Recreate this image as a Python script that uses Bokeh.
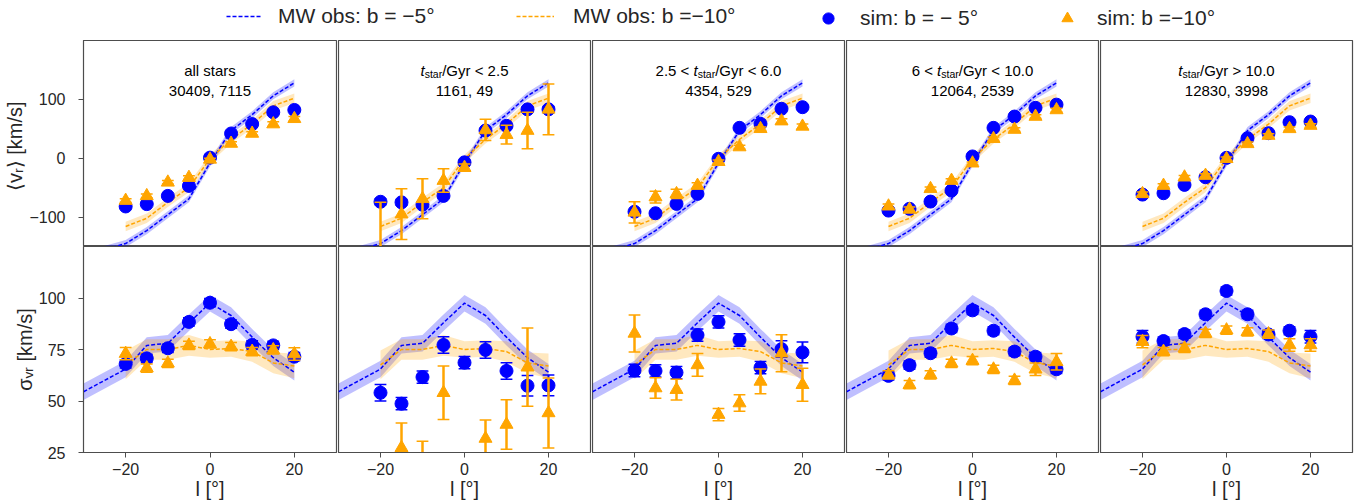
from bokeh.plotting import figure
from bokeh.models import Range1d, FixedTicker, Label, Legend, LegendItem
from bokeh.layouts import column, row
from bokeh.embed import file_html
from bokeh.resources import INLINE

nan = float("nan")

# ---------------- data ----------------
l_sim = [-20, -15, -10, -5, 0, 5, 10, 15, 20]
l_mw_b5 = [-30, -20, -15, -10, -5, 0, 5, 10, 15, 20]
l_mw_b10 = [-20, -15, -10, -5, 0, 5, 10, 15, 20]

mw_vr_b5 = [-165, -145, -123, -96, -69, -8, 47, 74, 106, 128]
mw_vr_b5_err = [6, 6, 6, 6, 6, 6, 6, 6, 6, 6]
mw_vr_b10 = [-116, -102, -75, -50, -1, 32, 58, 89, 102]
mw_vr_b10_err = [8, 8, 8, 8, 7, 7, 7, 8, 8]
mw_sig_b5 = [54.5, 65.5, 77, 78, 88, 97.5, 91.5, 81, 71, 64]
mw_sig_b5_err = [4, 4, 4, 4, 4, 4, 4, 4, 4, 4]
mw_sig_b10 = [67.5, 75, 75, 77, 75, 75.5, 74, 68.5, 67]
mw_sig_b10_err = [7, 5, 5, 5, 4, 4, 5, 5, 6]

title_line1 = [
    [("all stars", "n")],
    [("t", "i"), ("star", "s"), ("/Gyr < 2.5", "n")],
    [("2.5 < ", "n"), ("t", "i"), ("star", "s"), ("/Gyr < 6.0", "n")],
    [("6 < ", "n"), ("t", "i"), ("star", "s"), ("/Gyr < 10.0", "n")],
    [("t", "i"), ("star", "s"), ("/Gyr > 10.0", "n")],
]
title_line2 = ["30409, 7115", "1161, 49", "4354, 529", "12064, 2539", "12830, 3998"]

vr_b5 = [
    [-82, -78, -64, -47, 1, 42, 58, 78, 82],
    [-74, -75, -79, -64, -7, 47, 55, 83, 83],
    [-91, -93.5, -77.6, -60.6, -1, 51.6, 58.4, 84, 86.7],
    [-89, -86, -73.7, -55, 3, 51.6, 70.8, 85.6, 91],
    [-61.8, -59.5, -45.3, -32.3, 0.6, 34, 42.5, 61.2, 62.3],
]
vr_b5_err = [
    [2, 2, 2, 2, 2, 2, 2, 2, 2],
    [5, 5, 4, 4, 3, 3, 3, 4, 5],
    [3, 3, 3, 3, 3, 3, 3, 3, 3],
    [2, 2, 2, 2, 2, 2, 2, 2, 2],
    [2, 2, 2, 2, 2, 2, 2, 2, 2],
]
vr_b10 = [
    [-72, -64, -41, -33, -2, 25, 42, 58, 67],
    [-160, -95, -69, -38, -16, 48, 40, 47, 83],
    [-92, -66, -60.6, -46.5, -6, 19, 50, 63, 54],
    [-81.6, -87, -52, -38, -8.5, 33, 48.7, 70.8, 82],
    [-60.6, -46.5, -32.3, -29.5, -1, 24.4, 38.5, 49.9, 55.5],
]
vr_b10_err = [
    [3, 3, 3, 3, 2, 3, 3, 4, 4],
    [85, 43, 34, 20, 6, 18, 16, 31, 43],
    [18, 10, 8, 5, 3, 3, 3, 4, 4],
    [4, 4, 3, 3, 2, 3, 3, 3, 3],
    [3, 3, 3, 3, 3, 3, 3, 3, 3],
]
sig_b5 = [
    [68, 70.7, 75.6, 88.4, 97.7, 87.3, 77.2, 77, 71.5],
    [54, 48.7, 61.6, 77.2, 68.6, 74.8, 64.6, 57.4, 57.6],
    [64.8, 64.6, 63.8, 82, 88.4, 79.6, 66.2, 75.2, 73.6],
    [62.2, 67.4, 73.2, 85.2, 94, 84.1, 74, 71.5, 65.4],
    [81.2, 79.1, 82.5, 92.1, 103.4, 92.1, 82.3, 84.1, 81.2],
]
sig_b5_err = [
    [2, 2, 2, 2, 2, 2, 2, 2, 2],
    [4, 3, 3, 4, 3, 4, 4, 5, 5],
    [3, 3, 3, 3, 3, 3, 3, 4, 5],
    [2, 2, 2, 2, 2, 2, 2, 2, 2],
    [3, 2, 2, 2, 2, 2, 2, 2, 3],
]
sig_b10 = [
    [73, 66, 68.3, 77, 77.7, 76.4, 74, 74.8, 72.8],
    [12, 27.3, 18, 54, 15, 31.8, 38.6, 66.4, 44.2],
    [82.8, 56.3, 55.5, 67.5, 43.4, 49, 59.5, 73.2, 57.9],
    [62.7, 57.9, 62.7, 68.3, 69.6, 65.4, 60, 65.4, 69],
    [78.8, 74, 75.6, 82.8, 84.4, 83.6, 82.5, 77.2, 77.2],
]
sig_b10_err = [
    [3, 2, 2, 2, 2, 2, 2, 2, 3],
    [6, 12, 12.5, 13, 5, 9, 12, 19, 17],
    [9, 5, 5, 5.5, 3, 4, 6, 9, 8],
    [2, 2, 2, 2, 2, 2, 2, 3, 4],
    [3, 2, 2, 2, 2, 2, 2, 3, 3],
]

legend_labels = ["MW obs: b = \u22125\u00b0", "MW obs: b =\u221210\u00b0",
                 "sim: b = \u2212 5\u00b0", "sim: b =\u221210\u00b0"]

# ---------------- style ----------------
BLUE = "#0000ff"
ORANGE = "#ffa500"
TXT = "#262626"
FRAME = "#4d4d4d"
FONT = "Liberation Sans"

col_w = [337, 254, 254, 254, 260]
col_bl = [83, 1, 1, 1, 1]
col_br = [1, 1, 1, 1, 7]

CHW = {' ': 278, '/': 278, 'G': 778, 'y': 500, 'r': 333, '<': 584, '>': 584,
       '.': 278, ',': 278, 't': 278, 's': 500, 'a': 556, 'l': 222}


def tw(s, size):
    return sum(CHW.get(c, 556) for c in s) * size / 1000.0


def errbars(p, x, y, e, color, lw, cap=1.4):
    lo = [a - b for a, b in zip(y, e)]
    hi = [a + b for a, b in zip(y, e)]
    p.segment(x0=x, y0=lo, x1=x, y1=hi, line_color=color, line_width=lw)
    xl = [a - cap for a in x]
    xr = [a + cap for a in x]
    p.segment(x0=xl, y0=hi, x1=xr, y1=hi, line_color=color, line_width=1.5)
    p.segment(x0=xl, y0=lo, x1=xr, y1=lo, line_color=color, line_width=1.5)


def make_panel(ci, ri):
    top = ri == 0
    left = ci == 0
    yr = Range1d(-150, 200) if top else Range1d(25, 125)
    p = figure(width=col_w[ci], height=206 if top else 257,
               x_range=Range1d(-30, 30), y_range=yr,
               x_axis_location=None if top else "below",
               y_axis_location="left" if left else None,
               min_border_left=col_bl[ci], min_border_right=col_br[ci],
               min_border_top=0, min_border_bottom=0 if top else 51,
               output_backend="svg", toolbar_location=None)
    p.grid.grid_line_color = None
    p.outline_line_color = FRAME
    p.outline_line_width = 1.2
    p.background_fill_color = "white"
    p.border_fill_color = "white"

    for ax in p.axis:
        ax.major_tick_out = 5
        ax.major_tick_in = 0
        ax.minor_tick_line_color = None
        ax.major_tick_line_color = FRAME
        ax.axis_line_color = FRAME
        ax.major_label_text_font = FONT
        ax.major_label_text_font_size = "16px"
        ax.major_label_text_color = TXT
        ax.axis_label_text_font = FONT
        ax.axis_label_text_font_size = "20px"
        ax.axis_label_text_font_style = "normal"
        ax.axis_label_text_color = TXT
    if not top:
        p.xaxis.ticker = FixedTicker(ticks=[-20, 0, 20])
        p.xaxis.major_label_overrides = {-20: "\u221220"}
        p.xaxis.major_label_standoff = 5
        p.xaxis.axis_label = "l [\u00b0]"
        p.xaxis.axis_label_standoff = 0
    if left:
        if top:
            p.yaxis.ticker = FixedTicker(ticks=[-100, 0, 100])
            p.yaxis.major_label_overrides = {-100: "\u2212100"}
            p.yaxis.axis_label = "\u27e8v\u1d63\u27e9  [km/s]"
        else:
            p.yaxis.ticker = FixedTicker(ticks=[25, 50, 75, 100])
            p.yaxis.axis_label = "\u03c3\u1d65\u1d63 [km/s]"
        p.yaxis.major_label_standoff = 13
        p.yaxis.axis_label_standoff = 0

    if top:
        y5, e5 = mw_vr_b5, mw_vr_b5_err
        y10, e10 = mw_vr_b10, mw_vr_b10_err
        s5, se5 = vr_b5[ci], vr_b5_err[ci]
        s10, se10 = vr_b10[ci], vr_b10_err[ci]
    else:
        y5, e5 = mw_sig_b5, mw_sig_b5_err
        y10, e10 = mw_sig_b10, mw_sig_b10_err
        s5, se5 = sig_b5[ci], sig_b5_err[ci]
        s10, se10 = sig_b10[ci], sig_b10_err[ci]

    p.varea(x=l_mw_b5, y1=[a - b for a, b in zip(y5, e5)],
            y2=[a + b for a, b in zip(y5, e5)], fill_color=BLUE, fill_alpha=0.25)
    p.varea(x=l_mw_b10, y1=[a - b for a, b in zip(y10, e10)],
            y2=[a + b for a, b in zip(y10, e10)], fill_color=ORANGE, fill_alpha=0.25)
    p.line(l_mw_b5, y5, line_color=BLUE, line_width=1.5, line_dash="4 2")
    p.line(l_mw_b10, y10, line_color=ORANGE, line_width=1.5, line_dash="4 2")

    errbars(p, l_sim, s5, se5, BLUE, 2)
    p.scatter(l_sim, s5, marker="circle", size=13, color=BLUE)
    errbars(p, l_sim, s10, se10, ORANGE, 2.5)
    p.scatter(l_sim, s10, marker="triangle", size=13, color=ORANGE)

    if top:
        size = 15
        segs = title_line1[ci]
        widths = [tw(t, size * 0.7 if st == "s" else size) for t, st in segs]
        off = -sum(widths) / 2.0
        for (t, st), w in zip(segs, widths):
            p.add_layout(Label(x=0, y=148.4, x_offset=off,
                               y_offset=-3 if st == "s" else 0,
                               text=t, text_align="left", text_baseline="alphabetic",
                               text_font=FONT,
                               text_font_size=("%.1fpx" % (size * 0.7)) if st == "s" else "15px",
                               text_font_style="italic" if st == "i" else "normal",
                               text_color="black"))
            off += w
        p.add_layout(Label(x=0, y=114.4, text=title_line2[ci], text_align="center",
                           text_baseline="alphabetic", text_font=FONT,
                           text_font_size="15px", text_color="black"))
    return p


# ---------------- legend strip ----------------
lg = figure(width=1359, height=40, x_range=Range1d(0, 1), y_range=Range1d(0, 1),
            x_axis_location=None, y_axis_location=None, min_border=0,
            output_backend="svg", toolbar_location=None)
lg.grid.grid_line_color = None
lg.outline_line_color = None
r1 = lg.line([nan], [nan], line_color=BLUE, line_width=1.5, line_dash="4 2")
r2 = lg.line([nan], [nan], line_color=ORANGE, line_width=1.5, line_dash="4 2")
r3 = lg.scatter([nan], [nan], marker="circle", size=14, color=BLUE)
r4 = lg.scatter([nan], [nan], marker="triangle", size=14, color=ORANGE)
# (renderer, left x, glyph width, glyph height, standoff)
specs = [(r1, 226, 36, 20, 16), (r2, 516, 38, 20, 19),
         (r3, 814, 28, 28, 18), (r4, 1053, 28, 28, 16)]
for (r, x, gw, gh, st), lab in zip(specs, legend_labels):
    leg = Legend(items=[LegendItem(label=lab, renderers=[r])], location=(x, 22 - gh // 2),
                 orientation="horizontal", glyph_width=gw, glyph_height=gh,
                 label_standoff=st, padding=0, margin=0, spacing=0,
                 border_line_color=None, background_fill_alpha=0,
                 label_text_font=FONT, label_text_font_size="21px",
                 label_text_color=TXT)
    lg.add_layout(leg, "center")

top_row = row([make_panel(i, 0) for i in range(5)], spacing=0)
bot_row = row([make_panel(i, 1) for i in range(5)], spacing=0)
layout = column([lg, top_row, bot_row], spacing=0)

open("out.html", "w").write(file_html(layout, INLINE))
